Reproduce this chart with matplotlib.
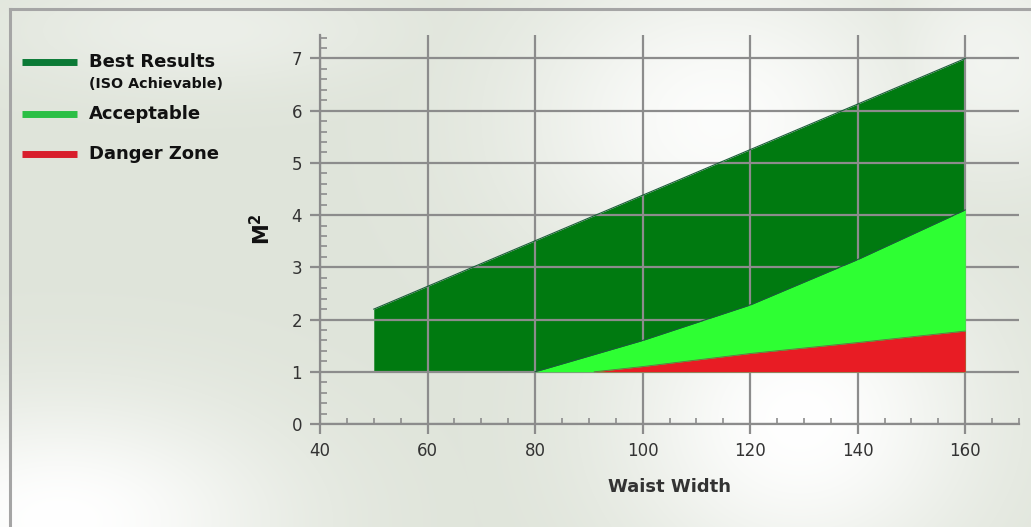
import numpy as np
import matplotlib
matplotlib.use("Agg")
from matplotlib import pyplot as plt
from matplotlib.lines import Line2D
from matplotlib.ticker import MultipleLocator

# data
best_x = [50, 160]
best_top = [2.2, 7.0]
acc_x = [80, 100, 120, 140, 160]
acc_top = [1.0, 1.6, 2.28, 3.15, 4.1]
danger_x = [91, 100, 120, 140, 160]
danger_top = [1.0, 1.1, 1.35, 1.56, 1.78]
base = 1.0

x_ticks = [40, 60, 80, 100, 120, 140, 160]
y_ticks = [0, 1, 2, 3, 4, 5, 6, 7]

legend_labels = ["Best Results", "Acceptable", "Danger Zone"]
legend_colors = ["#0b7a36", "#2bbf45", "#d81e2c"]

W, H = 1031, 527
fig = plt.figure(figsize=(W / 100, H / 100), dpi=100)

# background gradient
bg = fig.add_axes([0, 0, 1, 1], zorder=-10)
yy, xx = np.mgrid[0:H, 0:W]
base_col = np.array([0.875, 0.895, 0.855])
w = np.zeros((H, W))
for cx, cy, sx, sy, a in [(60, 520, 220, 120, 1.0), (800, 420, 180, 160, 1.0),
                          (720, 120, 200, 160, 0.9), (990, 60, 120, 120, 0.6),
                          (200, 30, 200, 60, 0.4)]:
    w = np.maximum(w, a * np.exp(-(((xx - cx) / sx) ** 2 + ((yy - cy) / sy) ** 2)))
img = base_col[None, None, :] * (1 - w[..., None]) + w[..., None]
bg.imshow(img, aspect="auto", extent=[0, W, H, 0])
bg.set_xlim(0, W)
bg.set_ylim(H, 0)
bg.axis("off")

# frame lines
fig.add_artist(Line2D([9.5 / W, 9.5 / W], [0, 1 - 9 / H], color="#a5a5a5", lw=2.2))
fig.add_artist(Line2D([9.5 / W, 1], [1 - 9 / H, 1 - 9 / H], color="#a5a5a5", lw=2.2))

ax = fig.add_axes([320 / W, 1 - 424 / H, 699 / W, 389 / H])
ax.patch.set_alpha(0)

ax.fill_between(best_x, base, best_top, color="#007a10", lw=0, zorder=2)
ax.fill_between(acc_x, base, acc_top, color="#2eff33", lw=0, zorder=3)
ax.fill_between(danger_x, base, danger_top, color="#e81c24", lw=0, zorder=4)
ax.plot(best_x, best_top, color="#1b5e3a", lw=0.8, zorder=5)
ax.plot(acc_x, acc_top, color="#1b5e3a", lw=0.8, zorder=5)
ax.plot(danger_x, danger_top, color="#6a6a4a", lw=0.6, zorder=5)

ax.set_xlim(40, 170)
ax.set_ylim(0, 7.45)
ax.set_xticks(x_ticks)
ax.set_yticks(y_ticks)
ax.xaxis.set_minor_locator(MultipleLocator(5))
ax.yaxis.set_minor_locator(MultipleLocator(0.2))
ax.grid(True, which="major", color="#8c8c8c", lw=1.6, zorder=6)
ax.set_axisbelow(False)
for s in ["top", "right"]:
    ax.spines[s].set_visible(False)
for s in ["left", "bottom"]:
    ax.spines[s].set_color("#8c8c8c")
    ax.spines[s].set_linewidth(1.6)
ax.tick_params(which="major", direction="out", length=7, width=1.6, color="#8c8c8c",
               labelsize=12, labelcolor="#333333", pad=6)
ax.tick_params(axis="x", which="minor", direction="in", length=4, width=1.2, color="#8c8c8c")
ax.tick_params(axis="y", which="minor", direction="in", length=5, width=1.2, color="#8c8c8c")

ax.set_xlabel("Waist Width", fontsize=13, fontweight="bold", color="#333333", labelpad=13)
ax.set_ylabel("M$^\\mathbf{2}$", fontsize=15, fontweight="bold", color="#111111", labelpad=12)

# legend
ly = [62, 114, 154]
for lab, col, y in zip(legend_labels, legend_colors, ly):
    fig.add_artist(Line2D([22 / W, 77 / W], [1 - y / H, 1 - y / H], color=col, lw=5,
                          solid_capstyle="butt"))
    fig.text(89 / W, 1 - y / H, lab, fontsize=13, fontweight="bold",
             va="center", ha="left", color="#111111")
fig.text(89 / W, 1 - 84 / H, "(ISO Achievable)", fontsize=10.3, fontweight="bold",
         va="center", ha="left", color="#111111")

fig.savefig("out.png", dpi=100)
